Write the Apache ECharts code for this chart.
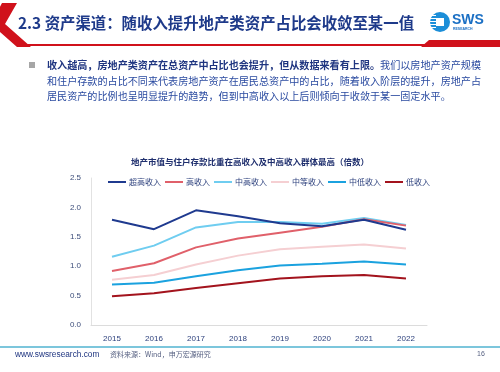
<!DOCTYPE html>
<html><head><meta charset="utf-8">
<script src="https://cdn.jsdelivr.net/npm/echarts@6/dist/echarts.min.js"></script>
<style>html,body{margin:0;padding:0;background:#fff}#c{width:500px;height:372px}</style>
</head><body><div id="c"></div>
<script>
var categories = ['2015','2016','2017','2018','2019','2020','2021','2022'];
var seriesNames = ['超高收入','高收入','中高收入','中等收入','中低收入','低收入'];
var superHigh = [1.79,1.63,1.95,1.85,1.73,1.68,1.79,1.62];
var high      = [0.92,1.05,1.32,1.47,1.57,1.67,1.80,1.69];
var upperMid  = [1.16,1.35,1.66,1.75,1.75,1.72,1.82,1.70];
var middle    = [0.77,0.85,1.03,1.18,1.29,1.33,1.37,1.30];
var lowerMid  = [0.69,0.72,0.83,0.93,1.01,1.04,1.08,1.03];
var low       = [0.49,0.54,0.63,0.71,0.79,0.83,0.85,0.79];
var yTicks = [0, 0.5, 1.0, 1.5, 2.0, 2.5];

var colors = ['#1f3a8f','#e0606a','#6fcdf0','#f5cfd2','#1ba2df','#a3131d'];
var data = [superHigh, high, upperMid, middle, lowerMid, low];
var FONT = '"Noto Sans CJK SC", "Noto Sans", sans-serif';

var chart = echarts.init(document.getElementById('c'), null, {renderer:'canvas'});
var series = seriesNames.map(function(n,i){
  return {name:n, type:'line', data:data[i], symbol:'none', smooth:false,
    lineStyle:{width:2, color:colors[i]}, itemStyle:{color:colors[i]}, z: 10 - i};
});
var stripes = [];
[15,18,21,24,27].forEach(function(y){
  stripes.push({type:'rect', shape:{x:429, y:y, width:7, height:1}, style:{fill:'#ffffff'}, z:3});
});
chart.setOption({
  animation:false,
  backgroundColor:'#ffffff',
  textStyle:{fontFamily:FONT},
  color: colors,
  title:{text:'地产市值与住户存款比重在高收入及中高收入群体最高（倍数）', left:'center', top:153,
    textStyle:{fontSize:8.5, fontWeight:'bold', color:'#1f2f6e', fontFamily:FONT}},
  legend:{data:seriesNames, top:173, left:103, itemWidth:18, itemHeight:8, itemGap:4,
    textStyle:{fontSize:8, color:'#2b3f7c', fontFamily:FONT, padding:[0,0,0,-2]},
    icon:'path://M0,0 L18,0 L18,2 L0,2 Z'},
  grid:{left:91, right:73, top:178, bottom:47, containLabel:false},
  xAxis:{type:'category', data:categories, boundaryGap:true,
    axisLine:{lineStyle:{color:'#dcdcdc', width:1}}, axisTick:{show:false},
    axisLabel:{fontSize:8, color:'#2b3f7c', margin:10, fontFamily:'Liberation Sans, Arial, sans-serif'}},
  yAxis:{type:'value', min:0, max:2.5, interval:0.5,
    axisLine:{show:true, lineStyle:{color:'#e2e2e2'}}, axisTick:{show:false},
    splitLine:{show:false},
    axisLabel:{fontSize:8, color:'#3c4d7a', margin:10, fontFamily:'Liberation Sans, Arial, sans-serif',
      formatter:function(v){return v.toFixed(1);}}},
  series: series,
  graphic:[
    {type:'polygon', shape:{points:[[2,3],[17,3],[5,24],[31,47],[17,47],[-9,24]]}, style:{fill:'#d0111b'}, z:1},
    {type:'rect', shape:{x:20, y:44, width:405, height:2}, style:{fill:'#d0111b'}, z:1},
    {type:'polygon', shape:{points:[[429,40],[500,40],[500,47],[421,47]]}, style:{fill:'#d0111b'}, z:1},
    {type:'text', style:{text:'2.3 资产渠道：随收入提升地产类资产占比会收敛至某一值', x:18, y:23, verticalAlign:'middle',
      font:'bold 15.4px '+FONT, fill:'#1e3a8a'}, z:2},
    {type:'circle', shape:{cx:440, cy:22, r:10}, style:{fill:'#1c8ed8'}, z:2},
    {type:'rect', shape:{x:436, y:18, width:8, height:8}, style:{fill:'#ffffff'}, z:3}
  ].concat(stripes).concat([
    {type:'text', style:{text:'SWS', x:452, y:20, verticalAlign:'middle', font:'bold 14px "Liberation Sans", Arial, sans-serif', fill:'#1a6fc4'}, z:2},
    {type:'text', style:{text:'RESEARCH', x:453, y:29.5, verticalAlign:'middle', font:'bold 3.5px "Liberation Sans", Arial, sans-serif', fill:'#1a6fc4'}, z:2},
    {type:'rect', shape:{x:29, y:62, width:6, height:6}, style:{fill:'#a6a6a6'}, z:2},
    {type:'text', style:{
      text:'{b|收入越高，房地产类资产在总资产中占比也会提升，但从数据来看有上限。}{r|我们以房地产资产规模}',
      x:47, y:65, verticalAlign:'middle',
      rich:{b:{font:'bold 10.1px '+FONT, fill:'#1f3580'}, r:{font:'10.1px '+FONT, fill:'#2a4aa0'}}}, z:2},
    {type:'text', style:{text:'和住户存款的占比不同来代表房地产资产在居民总资产中的占比，随着收入阶层的提升，房地产占',
      x:47, y:81, verticalAlign:'middle', font:'10.1px '+FONT, fill:'#2a4aa0'}, z:2},
    {type:'text', style:{text:'居民资产的比例也呈明显提升的趋势，但到中高收入以上后则倾向于收敛于某一固定水平。',
      x:47, y:96.5, verticalAlign:'middle', font:'10.1px '+FONT, fill:'#2a4aa0'}, z:2},
    {type:'rect', shape:{x:0, y:346, width:500, height:2}, style:{fill:'#7cc6dc'}, z:1},
    {type:'text', style:{text:'www.swsresearch.com', x:15, y:354.5, verticalAlign:'middle', font:'8.3px "Liberation Sans", Arial, sans-serif', fill:'#1f3580'}, z:2},
    {type:'text', style:{text:'资料来源：Wind，申万宏源研究', x:110, y:354.5, verticalAlign:'middle', font:'7px '+FONT, fill:'#555f80'}, z:2},
    {type:'text', style:{text:'16', x:477, y:354.5, verticalAlign:'middle', font:'7px "Liberation Sans", Arial, sans-serif', fill:'#555f80'}, z:2}
  ])
});
</script></body></html>
